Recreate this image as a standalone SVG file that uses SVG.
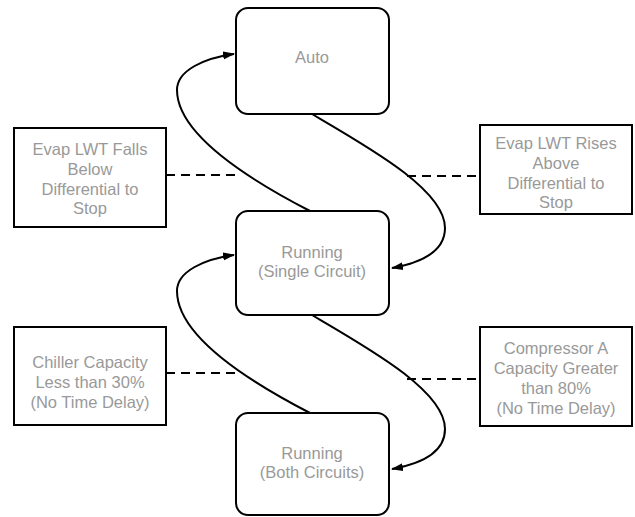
<svg xmlns="http://www.w3.org/2000/svg" width="635" height="517" viewBox="0 0 635 517">
<style>
.state{fill:#fff;stroke:#000;stroke-width:2}
.note{fill:#fff;stroke:#000;stroke-width:2}
.t{font-family:"Liberation Sans",Arial,sans-serif;font-size:16.5px;fill:#999;text-anchor:middle}
.conn{fill:none;stroke:#000;stroke-width:2}
.dash{fill:none;stroke:#000;stroke-width:2;stroke-dasharray:9,6}
</style>
<defs>
<marker id="arr" markerWidth="12" markerHeight="10" refX="11" refY="5" orient="auto" markerUnits="userSpaceOnUse">
<path d="M0,1 L12,5 L0,9 Z" fill="#000"/>
</marker>
</defs>
<rect width="635" height="517" fill="#fff"/>
<g id="connectors">
<path class="dash" d="M166,175 H238"/>
<path class="dash" d="M407,176 H480"/>
<path class="dash" d="M166,373 H238"/>
<path class="dash" d="M407,379 H480"/>
<path class="conn" marker-end="url(#arr)" d="M312,114 C370,148 445,190 445,228 C445,252 420,263 392,268"/>
<path class="conn" marker-end="url(#arr)" d="M310,211 C250,180 177,135 177,90 C177,70 205,58 234,54"/>
<path class="conn" marker-end="url(#arr)" d="M312,315 C370,349 445,391 445,429 C445,453 420,464 392,469"/>
<path class="conn" marker-end="url(#arr)" d="M310,413 C250,382 177,337 177,291 C177,271 205,259 234,255"/>
</g>
<g id="auto">
<rect class="state" x="236" y="8" width="153" height="106" rx="12"/>
<text class="t" x="312" y="63">Auto</text>
</g>
<g id="single">
<rect class="state" x="236" y="211" width="153" height="104" rx="12"/>
<text class="t" x="312" y="258">Running</text>
<text class="t" x="312" y="277">(Single Circuit)</text>
</g>
<g id="both">
<rect class="state" x="236" y="413" width="153" height="102" rx="12"/>
<text class="t" x="312" y="459">Running</text>
<text class="t" x="312" y="478">(Both Circuits)</text>
</g>
<g id="note-falls">
<rect class="note" x="14" y="128" width="152" height="99"/>
<text class="t" x="90" y="155">Evap LWT Falls</text>
<text class="t" x="90" y="175">Below</text>
<text class="t" x="90" y="195">Differential to</text>
<text class="t" x="90" y="214">Stop</text>
</g>
<g id="note-rises">
<rect class="note" x="480" y="125" width="152" height="89"/>
<text class="t" x="556" y="149">Evap LWT Rises</text>
<text class="t" x="556" y="169">Above</text>
<text class="t" x="556" y="189">Differential to</text>
<text class="t" x="556" y="208">Stop</text>
</g>
<g id="note-less">
<rect class="note" x="14" y="327" width="152" height="98"/>
<text class="t" x="90" y="368">Chiller Capacity</text>
<text class="t" x="90" y="388">Less than 30%</text>
<text class="t" x="90" y="408">(No Time Delay)</text>
</g>
<g id="note-greater">
<rect class="note" x="480" y="327" width="152" height="99"/>
<text class="t" x="556" y="354">Compressor A</text>
<text class="t" x="556" y="374">Capacity Greater</text>
<text class="t" x="556" y="394">than 80%</text>
<text class="t" x="556" y="414">(No Time Delay)</text>
</g>
</svg>
